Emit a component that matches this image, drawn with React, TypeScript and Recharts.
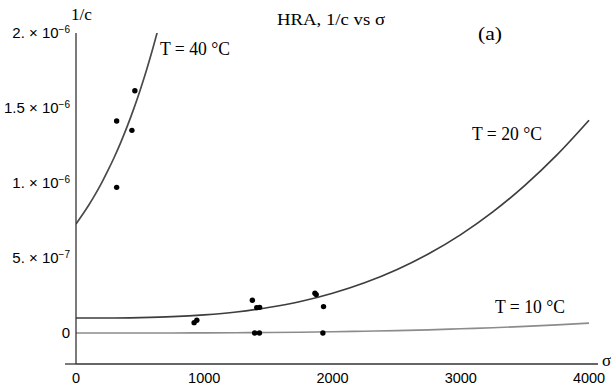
import React from 'react';
import { ComposedChart, Line, Scatter, XAxis, YAxis } from 'recharts';

// ---- axis ticks ----
const xTicks = [0, 1000, 2000, 3000, 4000];
const xMinorTicks = [200, 400, 600, 800, 1200, 1400, 1600, 1800, 2200, 2400, 2600, 2800, 3200, 3400, 3600, 3800];
const yTicks = [0, 5e-7, 1e-6, 1.5e-6, 2e-6];
const yTickMantissa = ['0', '5.', '1.', '1.5', '2.'];
const yTickExponent = ['', '\u22127', '\u22126', '\u22126', '\u22126'];
const yMinorTicks = [-2e-7, -1e-7, 1e-7, 2e-7, 3e-7, 4e-7, 6e-7, 7e-7, 8e-7, 9e-7, 1.1e-6, 1.2e-6, 1.3e-6, 1.4e-6, 1.6e-6, 1.7e-6, 1.8e-6, 1.9e-6];

// ---- fitted curves (values in units of 1e-6) ----
const curveSigma = [0, 250, 500, 750, 1000, 1250, 1500, 1750, 2000, 2250, 2500, 2750, 3000, 3250, 3500, 3750, 4000];
const t20Curve = [0.1, 0.1, 0.103, 0.109, 0.121, 0.14, 0.17, 0.21, 0.265, 0.335, 0.422, 0.528, 0.656, 0.807, 0.984, 1.187, 1.418];
const t10Curve = [0, 0, 0, 0, 0.001, 0.002, 0.003, 0.005, 0.008, 0.012, 0.016, 0.021, 0.028, 0.035, 0.044, 0.054, 0.066];
const t40Sigma = [0, 50, 100, 150, 200, 250, 300, 350, 400, 450, 500, 550, 600, 650];
const t40Curve = [0.727, 0.788, 0.853, 0.924, 1.001, 1.085, 1.175, 1.273, 1.379, 1.494, 1.619, 1.754, 1.9, 2.058];

// ---- measured points (values in units of 1e-6) ----
const t40PtSigma = [459, 317, 436, 317];
const t40PtValue = [1.615, 1.413, 1.351, 0.971];
const t20PtSigma = [921, 942, 1375, 1409, 1432, 1863, 1873, 1930];
const t20PtValue = [0.069, 0.085, 0.218, 0.169, 0.171, 0.265, 0.256, 0.176];
const t10PtSigma = [1393, 1430, 1925];
const t10PtValue = [0, 0, 0];

const MICRO = 1e-6;
const build = (s: number[], v: number[]) => s.map((x, i) => ({ s: x, v: v[i] * MICRO }));

const t20Data = build(curveSigma, t20Curve);
const t10Data = build(curveSigma, t10Curve);
const t40Data = build(t40Sigma, t40Curve);
const pointsData = [
  ...build(t40PtSigma, t40PtValue),
  ...build(t20PtSigma, t20PtValue),
  ...build(t10PtSigma, t10PtValue),
];

const xDomain: [number, number] = [0, 4070];
const yDomain: [number, number] = [-2.067e-7, 2e-6];

const SANS = 'Liberation Sans, Arial, sans-serif';
const SERIF = 'Liberation Serif, Times New Roman, serif';
const AXIS = '#333';

const YTick = (props: any) => {
  const { x, y, index } = props;
  const m = yTickMantissa[index];
  const e = yTickExponent[index];
  return (
    <text x={x} y={y + 5.3} textAnchor="end" fontFamily={SANS} fontSize={15} fill="#000">
      {e ? m + ' \u00d7 10' : m}
      {e ? (
        <tspan dy={-5} fontSize={10}>
          {e}
        </tspan>
      ) : null}
    </text>
  );
};

const XTick = (props: any) => {
  const { x, y, payload } = props;
  return (
    <text x={x} y={y + 18.5} textAnchor="middle" fontFamily={SANS} fontSize={14.5} fill="#000">
      {payload.value}
    </text>
  );
};

const Dot = (props: any) => <circle cx={props.cx} cy={props.cy} r={2.7} fill="#000" />;

export default function App() {
  return (
    <div style={{ position: 'absolute', left: 0, top: 0, width: 611, height: 389, background: '#fff' }}>
      <ComposedChart width={611} height={389} margin={{ top: 33, right: 13, left: 0, bottom: 0 }}>
        <XAxis
          dataKey="s"
          type="number"
          domain={xDomain}
          allowDataOverflow
          ticks={xTicks}
          interval={0}
          height={25}
          tickLine={false}
          tickSize={0}
          tickMargin={0}
          axisLine={{ stroke: AXIS, strokeWidth: 1.3 }}
          tick={<XTick />}
        />
        <XAxis
          xAxisId="xminor"
          dataKey="s"
          type="number"
          domain={xDomain}
          allowDataOverflow
          ticks={xMinorTicks}
          interval={0}
          mirror
          height={0}
          axisLine={false}
          tickSize={3}
          tickLine={{ stroke: '#777', strokeWidth: 1 }}
          tickFormatter={() => ''}
        />
        <XAxis
          xAxisId="xmajor"
          dataKey="s"
          type="number"
          domain={xDomain}
          allowDataOverflow
          ticks={xTicks}
          interval={0}
          mirror
          height={0}
          axisLine={false}
          tickSize={5}
          tickLine={{ stroke: '#555', strokeWidth: 1 }}
          tickFormatter={() => ''}
        />
        <YAxis
          dataKey="v"
          type="number"
          domain={yDomain}
          allowDataOverflow
          ticks={yTicks}
          interval={0}
          width={76}
          tickLine={false}
          tickSize={0}
          tickMargin={6}
          axisLine={{ stroke: AXIS, strokeWidth: 1.3 }}
          tick={<YTick />}
        />
        <YAxis
          yAxisId="yminor"
          dataKey="v"
          type="number"
          domain={yDomain}
          allowDataOverflow
          ticks={yMinorTicks}
          interval={0}
          mirror
          width={0}
          axisLine={false}
          tickSize={3}
          tickLine={{ stroke: '#777', strokeWidth: 1 }}
          tickFormatter={() => ''}
        />
        <YAxis
          yAxisId="ymajor"
          dataKey="v"
          type="number"
          domain={yDomain}
          allowDataOverflow
          ticks={yTicks}
          interval={0}
          mirror
          width={0}
          axisLine={false}
          tickSize={5}
          tickLine={{ stroke: '#555', strokeWidth: 1 }}
          tickFormatter={() => ''}
        />
        <Line data={t10Data} dataKey="v" type="monotone" stroke="#8c8c8c" strokeWidth={1.6} dot={false} isAnimationActive={false} />
        <Line data={t20Data} dataKey="v" type="monotone" stroke="#3d3d3d" strokeWidth={1.7} dot={false} isAnimationActive={false} />
        <Line data={t40Data} dataKey="v" type="monotone" stroke="#4a4a4a" strokeWidth={1.7} dot={false} isAnimationActive={false} />
        <Scatter data={pointsData} dataKey="v" shape={<Dot />} isAnimationActive={false} />
      </ComposedChart>
      <svg width={611} height={389} style={{ position: 'absolute', left: 0, top: 0, pointerEvents: 'none' }}>
        <line x1={65} y1={364} x2={76} y2={364} stroke={AXIS} strokeWidth={1.3} />
        <text x={277} y={25} fontFamily={SERIF} fontSize={17} textLength={108} lengthAdjust="spacingAndGlyphs" fill="#000">
          HRA, 1/c vs  σ
        </text>
        <text x={478} y={40} fontFamily={SERIF} fontSize={19} textLength={24} lengthAdjust="spacingAndGlyphs" fill="#000">
          (a)
        </text>
        <text x={71} y={20} fontFamily={SERIF} fontSize={16} textLength={21} lengthAdjust="spacingAndGlyphs" fill="#000">
          1/c
        </text>
        <text x={602} y={366} fontFamily={SERIF} fontSize={17} fill="#000">
          σ
        </text>
        <text x={160} y={55} fontFamily={SERIF} fontSize={19} textLength={70} lengthAdjust="spacingAndGlyphs" fill="#000">
          T = 40 °C
        </text>
        <text x={472} y={140} fontFamily={SERIF} fontSize={19} textLength={70} lengthAdjust="spacingAndGlyphs" fill="#000">
          T = 20 °C
        </text>
        <text x={495} y={313} fontFamily={SERIF} fontSize={19} textLength={70} lengthAdjust="spacingAndGlyphs" fill="#000">
          T = 10 °C
        </text>
      </svg>
    </div>
  );
}
